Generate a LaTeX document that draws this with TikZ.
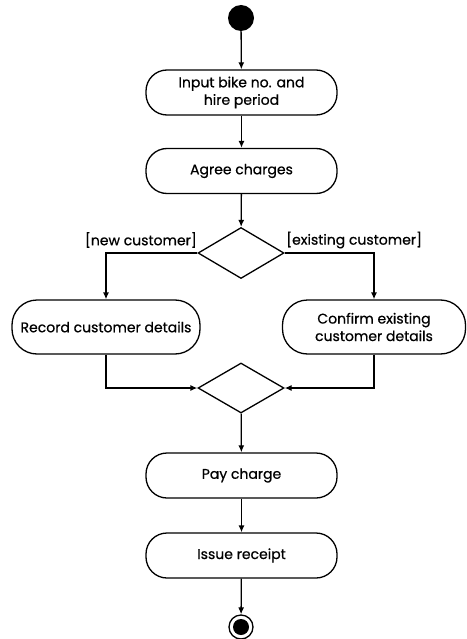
\documentclass[tikz,border=0pt]{standalone}
\usepackage{fontspec}
\setmainfont{Poppins}[FakeBold=0.6]
\usetikzlibrary{shapes.geometric,arrows.meta}
\begin{document}
\begin{tikzpicture}[x=1pt,y=-1pt,
  act/.style={draw,line width=1.3pt,rounded corners=21pt,minimum width=191pt,minimum height=45pt,inner sep=2pt,align=center,font=\fontsize{14}{17.5}\selectfont},
  dec/.style={draw,line width=1.3pt,diamond,minimum width=86pt,minimum height=51pt,inner sep=0pt},
  arr/.style={line width=1.3pt,-{Latex[length=7pt,width=6pt]}},
  lbl/.style={font=\fontsize{14}{17}\selectfont,inner sep=0pt}]
\useasboundingbox[fill=white] (0,0) rectangle (466,639);
\node[circle,fill=black,minimum size=26pt,inner sep=0pt] (start) at (241,18) {};
\node[act] (a1) at (241.5,92.5) {Input bike no. and\\hire period};
\node[act] (a2) at (241.5,171) {Agree charges};
\node[dec] (d1) at (241,253) {};
\node[act,minimum width=188pt,minimum height=54pt,rounded corners=25pt] (a3) at (106,327) {Record customer details};
\node[act,minimum width=183pt,minimum height=54pt,rounded corners=25pt] (a4) at (374,327) {Confirm existing\\customer details};
\node[dec,minimum height=50pt] (d2) at (241,388) {};
\node[act] (a5) at (241.5,475.5) {Pay charge};
\node[act] (a6) at (241.5,555.5) {Issue receipt};
\node[circle,draw,line width=1.3pt,minimum size=24pt,inner sep=0pt] (end) at (241,627) {};
\node[circle,fill=black,minimum size=16pt,inner sep=0pt] (endin) at (241,627) {};
\node[lbl,anchor=east] (l1) at (197,240) {[new customer]};
\node[lbl,anchor=west] (l2) at (286,240) {[existing customer]};
\draw[arr] (start) -- (a1);
\draw[arr] (a1) -- (a2);
\draw[arr] (a2) -- (d1);
\draw[arr] (d1.west) -| (a3.north);
\draw[arr] (d1.east) -| (a4.north);
\draw[arr] (a3.south) |- (d2.west);
\draw[arr] (a4.south) |- (d2.east);
\draw[arr] (d2) -- (a5);
\draw[arr] (a5) -- (a6);
\draw[arr] (a6) -- (end);
\end{tikzpicture}
\end{document}
